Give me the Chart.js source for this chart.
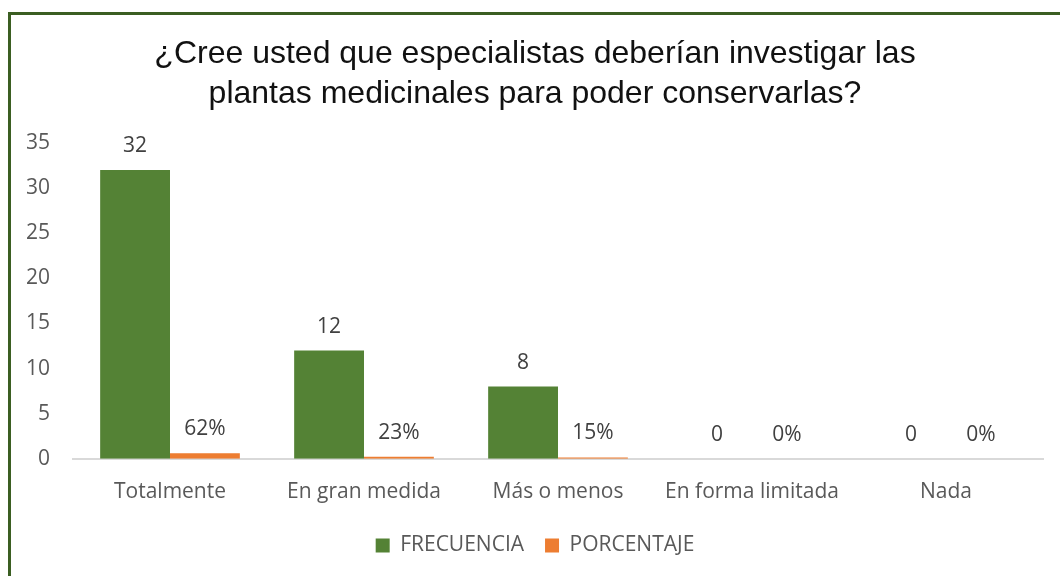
<!DOCTYPE html>
<html>
<head>
<meta charset="utf-8">
<script src="https://cdn.jsdelivr.net/npm/chart.js@4.4.1/dist/chart.umd.min.js"></script>
<style>
  html, body { margin: 0; padding: 0; background: #fff; }
  #wrap { position: relative; width: 1060px; height: 576px; overflow: hidden; }
  #frame {
    position: absolute; left: 8px; top: 12px; width: 1080px; height: 600px;
    border: 3px solid #3b5e22; pointer-events: none;
  }
</style>
</head>
<body>
<div id="wrap">
  <canvas id="chartCTX" width="1060" height="576"></canvas>
  <div id="frame"></div>
</div>
<script>
const categories = ["Totalmente", "En gran medida", "Más o menos", "En forma limitada", "Nada"];
const frecuencia = [32, 12, 8, 0, 0];
const porcentaje = [0.62, 0.23, 0.15, 0, 0];
const yTicks = [0, 5, 10, 15, 20, 25, 30, 35];

const labelFont = "'Open Sans', 'DejaVu Sans', sans-serif";

// draws the value above each bar
const valueLabels = {
  id: "valueLabels",
  afterDatasetsDraw(chart) {
    const ctx = chart.ctx;
    ctx.save();
    ctx.fillStyle = "#404040";
    ctx.font = "21px " + labelFont;
    ctx.textAlign = "center";
    ctx.textBaseline = "middle";
    chart.data.datasets.forEach((ds, i) => {
      chart.getDatasetMeta(i).data.forEach((bar, j) => {
        const v = ds.data[j];
        const txt = i === 1 ? Math.round(v * 100) + "%" : String(v);
        ctx.fillText(txt, bar.x, bar.y - 24);
      });
    });
    ctx.restore();
  },
};

const chartWrapper = document.getElementById("chartCTX");

const chartData = {
  labels: categories,
  datasets: [
    {
      label: "FRECUENCIA",
      data: frecuencia,
      backgroundColor: "#548235",
      barPercentage: 1,
      categoryPercentage: 0.72,
    },
    {
      label: "PORCENTAJE",
      data: porcentaje,
      backgroundColor: "#ed7d31",
      barPercentage: 1,
      categoryPercentage: 0.72,
    },
  ],
};

const chartOptions = {
  responsive: false,
  animation: false,
  layout: { padding: { left: 27, right: 17, top: 0, bottom: 10 } },
  plugins: {
    title: {
      display: true,
      text: [
        "¿Cree usted que especialistas deberían investigar las",
        "plantas medicinales para poder conservarlas?",
      ],
      color: "#111",
      font: { family: "'Liberation Sans', Arial, sans-serif", size: 32, weight: "normal", lineHeight: 1.25 },
      padding: { top: 34, bottom: 29 },
    },
    legend: {
      position: "bottom",
      labels: {
        color: "#595959",
        font: { family: labelFont, size: 21 },
        boxWidth: 14,
        boxHeight: 14,
        padding: 21,
      },
    },
    tooltip: { enabled: false },
  },
  scales: {
    x: {
      grid: { display: false },
      border: { display: true, color: "#d9d9d9", width: 2 },
      ticks: { color: "#595959", font: { family: labelFont, size: 21 }, padding: 13 },
      afterFit: (scale) => {
        scale.height -= 4;
      },
    },
    y: {
      min: 0,
      max: 35,
      afterBuildTicks: (scale) => {
        scale.ticks = yTicks.map((v) => ({ value: v }));
      },
      afterFit: (scale) => {
        scale.width = 46;
      },
      grid: { display: false },
      border: { display: false },
      ticks: { color: "#595959", font: { family: labelFont, size: 21 }, padding: 15 },
    },
  },
};

const chartCTX = new Chart(chartWrapper, {
  type: "bar",
  data: chartData,
  options: chartOptions,
  plugins: [valueLabels],
});
</script>
</body>
</html>
